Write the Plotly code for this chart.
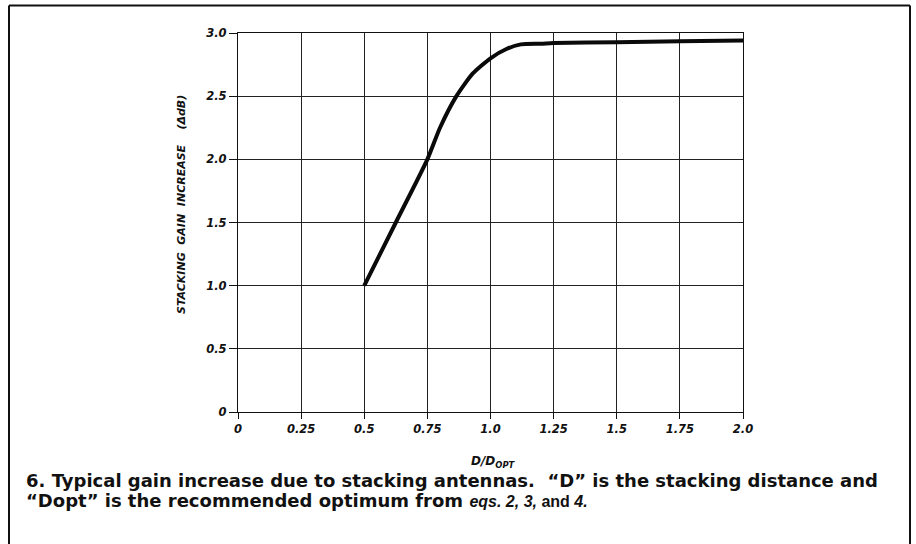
import plotly.graph_objects as go

# Data
d_ratio = [0.5, 0.625, 0.75, 0.8, 0.865, 0.93, 1.0, 1.065, 1.12, 1.2, 1.25, 1.5, 1.75, 2.0]
gain_db = [1.0, 1.5, 2.0, 2.25, 2.5, 2.68, 2.80, 2.875, 2.91, 2.915, 2.92, 2.927, 2.935, 2.94]

x_tickvals = [0, 0.25, 0.5, 0.75, 1.0, 1.25, 1.5, 1.75, 2.0]
x_ticktext = ["0", "0.25", "0.5", "0.75", "1.0", "1.25", "1.5", "1.75", "2.0"]
y_tickvals = [0, 0.5, 1.0, 1.5, 2.0, 2.5, 3.0]
y_ticktext = ["0", "0.5", "1.0", "1.5", "2.0", "2.5", "3.0"]

W, H = 916, 544
L, R, T, B = 238, 173, 33, 132
PW = W - L - R
PH = H - T - B


def px_x(p):
    return (p - L) / PW


def px_y(p):
    return (H - B - p) / PH


tick_font = dict(family="DejaVu Sans", size=11.5, color="#111", style="italic", weight="bold")

fig = go.Figure()
fig.add_trace(go.Scatter(
    x=d_ratio, y=gain_db, mode="lines",
    line=dict(color="#0a0a0a", width=4, shape="spline", smoothing=0.6),
    showlegend=False, hoverinfo="skip",
))

fig.update_layout(
    width=W, height=H,
    margin=dict(l=L, r=R, t=T, b=B),
    paper_bgcolor="white", plot_bgcolor="white",
    xaxis=dict(
        range=[0, 2], tickvals=x_tickvals, ticktext=x_ticktext,
        showgrid=True, gridcolor="#222", gridwidth=1.2,
        showline=True, linecolor="#111", linewidth=1.2, mirror=True,
        ticks="outside", ticklen=6, tickcolor="#111",
        tickfont=tick_font, zeroline=False,
    ),
    yaxis=dict(
        range=[0, 3], tickvals=y_tickvals, ticktext=y_ticktext,
        showgrid=True, gridcolor="#222", gridwidth=1.2,
        showline=True, linecolor="#111", linewidth=1.2, mirror=True,
        ticks="outside", ticklen=8, tickcolor="#111",
        tickfont=tick_font, zeroline=False,
    ),
)

# Axis titles
fig.add_annotation(
    x=px_x(182), y=px_y(205), xref="paper", yref="paper",
    text="STACKING  GAIN  INCREASE    (ΔdB)", textangle=-90,
    showarrow=False, xanchor="center", yanchor="middle",
    font=dict(family="DejaVu Sans", size=11, color="#111", style="italic", weight="bold"),
)
fig.add_annotation(
    x=px_x(493), y=px_y(462), xref="paper", yref="paper",
    text="D/D<sub>OPT</sub>",
    showarrow=False, xanchor="center", yanchor="middle",
    font=dict(family="DejaVu Sans", size=12, color="#111", style="italic", weight="bold"),
)

# Caption
cap_font = dict(family="DejaVu Sans", size=18, color="#111", weight="bold")
fig.add_annotation(
    x=px_x(24), y=px_y(480), xref="paper", yref="paper",
    text="6. Typical gain increase due to stacking antennas.  \u201cD\u201d is the stacking distance and",
    showarrow=False, xanchor="left", yanchor="middle", font=cap_font,
)
tail = "font-family:'Liberation Sans',Arial,sans-serif;font-size:16px;font-weight:bold;"
fig.add_annotation(
    x=px_x(24), y=px_y(500), xref="paper", yref="paper",
    text=("\u201cDopt\u201d is the recommended optimum from "
          f"<span style=\"{tail}\"><i>eqs. 2, 3,</i> and <i>4.</i></span>"),
    showarrow=False, xanchor="left", yanchor="middle", font=cap_font,
)

# Outer frame
frame = dict(color="#111", width=2)
fig.add_shape(type="line", xref="paper", yref="paper",
              x0=px_x(9), x1=px_x(9), y0=px_y(5.5), y1=px_y(560), line=frame)
fig.add_shape(type="line", xref="paper", yref="paper",
              x0=px_x(9), x1=px_x(910), y0=px_y(5.5), y1=px_y(5.5), line=frame)
fig.add_shape(type="line", xref="paper", yref="paper",
              x0=px_x(910), x1=px_x(910), y0=px_y(5.5), y1=px_y(560), line=frame)

# remove the browser's default 8px body margin so the figure fills the window
fig.write_html(
    "out.html",
    config={"displayModeBar": False},
    post_script="document.body.style.margin='0';document.body.style.overflow='hidden';",
)
